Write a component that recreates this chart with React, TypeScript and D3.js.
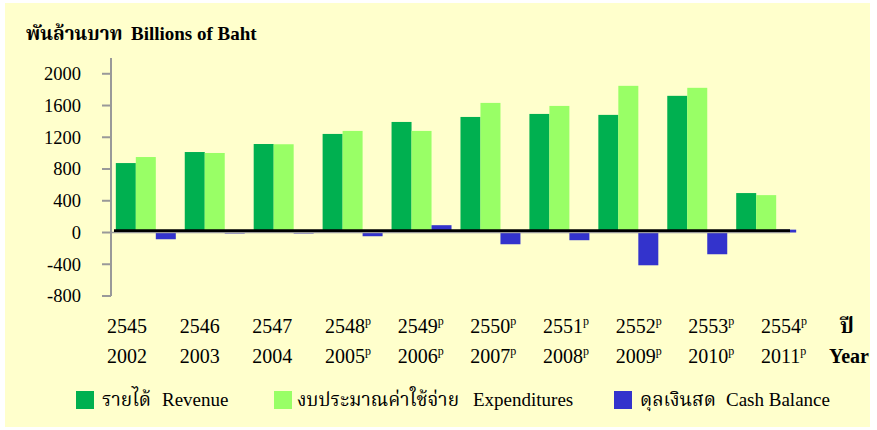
import React from 'react';
import * as d3 from 'd3';

const yearsBE = ['2545', '2546', '2547', '2548', '2549', '2550', '2551', '2552', '2553', '2554'];
const yearsCE = ['2002', '2003', '2004', '2005', '2006', '2007', '2008', '2009', '2010', '2011'];
const provisional = [false, false, false, true, true, true, true, true, true, true];
const revenue = [875, 1014, 1115, 1242, 1393, 1456, 1494, 1482, 1722, 497];
const expenditures = [951, 1002, 1112, 1280, 1280, 1633, 1595, 1848, 1823, 471];
const cashBalance = [-85, -12, -12, -47, 92, -148, -97, -413, -274, 36];
const yTicks = [-800, -400, 0, 400, 800, 1200, 1600, 2000];
const seriesKeys = ['revenue', 'expenditures', 'cash'];
const seriesThai = ['รายได้', 'งบประมาณค่าใช้จ่าย', 'ดุลเงินสด'];
const seriesEng = ['Revenue', 'Expenditures', 'Cash Balance'];
const seriesColors = ['#00B050', '#99FF66', '#3333CC'];
const titleThai = 'พันล้านบาท';
const titleEng = 'Billions of Baht';
const xTitleThai = 'ปี';
const xTitleEng = 'Year';

const W = 877;
const H = 430;
const SERIF = "'Liberation Serif', 'Times New Roman', 'Noto Serif Thai', 'Noto Sans Thai', serif";

export default function App() {
  const y = d3.scaleLinear().domain([-800, 2200]).range([296, 57.9]);
  const x = d3.scaleBand<string>().domain(yearsBE).range([111, 801]).paddingInner(0.13).paddingOuter(0.07);
  const xs = d3.scaleBand<string>().domain(seriesKeys).range([0, x.bandwidth()]);
  const xl = d3.scalePoint<string>().domain(yearsBE).range([127, 781]);
  const seriesData = [revenue, expenditures, cashBalance];
  const y0 = y(0);
  const axisX = 111;

  const legendSquares = [76, 274, 614];
  const legendThaiX = [102, 297, 640];
  const legendEngX = [162, 473, 726];

  return (
    <svg width={W} height={H} style={{ position: 'absolute', left: 0, top: 0 }} fontFamily={SERIF}>
      <rect x={0} y={0} width={W} height={H} fill="#ffffff" />
      <rect x={5} y={3} width={865} height={424} fill="#FFFFCC" />

      {/* title */}
      <text x={26} y={39.5} fontSize={19} fontWeight="bold" fill="#000">{titleThai}</text>
      <text x={131} y={39.5} fontSize={19} fontWeight="bold" fill="#000">{titleEng}</text>

      {/* bars */}
      {yearsBE.map((yr, i) => (
        <g key={yr} transform={`translate(${x(yr)},0)`}>
          {seriesKeys.map((k, s) => {
            const v = seriesData[s][i];
            const top = Math.min(y(v), y0);
            const h = Math.abs(y(v) - y0);
            return (
              <rect key={k} x={xs(k)} y={top} width={xs.bandwidth()} height={Math.max(h, 0.8)} fill={seriesColors[s]} />
            );
          })}
        </g>
      ))}

      {/* x axis (gray) and zero line (black) */}
      <line x1={axisX} x2={790} y1={y0} y2={y0} stroke="#999" strokeWidth={1.5} />
      <line x1={114} x2={790} y1={y0 - 1.8} y2={y0 - 1.8} stroke="#000" strokeWidth={2.7} />

      {/* y axis */}
      <line x1={axisX} x2={axisX} y1={y(2200)} y2={y(-800)} stroke="#999" strokeWidth={2} />
      {yTicks.map((t) => (
        <g key={t}>
          <line x1={102} x2={axisX} y1={y(t)} y2={y(t)} stroke="#999" strokeWidth={2} />
          <text x={81} y={y(t)} dy="0.35em" textAnchor="end" fontSize={18.5} fill="#000">{t}</text>
        </g>
      ))}

      {/* x labels */}
      {yearsBE.map((yr, i) => {
        const cx = xl(yr) as number;
        return (
          <g key={yr}>
            <text x={cx - 20} y={332.5} fontSize={20} fill="#000">
              {yr}
              {provisional[i] ? <tspan dy={-7.5} fontSize={12}>p</tspan> : null}
            </text>
            <text x={cx - 20} y={362.5} fontSize={20} fill="#000">
              {yearsCE[i]}
              {provisional[i] ? <tspan dy={-7.5} fontSize={12}>p</tspan> : null}
            </text>
          </g>
        );
      })}
      <text x={840} y={332.5} fontSize={21} fontWeight="bold" fill="#000">{xTitleThai}</text>
      <text x={829} y={362.5} fontSize={20} fontWeight="bold" fill="#000">{xTitleEng}</text>

      {/* legend */}
      {seriesKeys.map((k, s) => (
        <g key={k}>
          <rect x={legendSquares[s]} y={391} width={18} height={18} fill={seriesColors[s]} />
          <text x={legendThaiX[s]} y={405.5} fontSize={19} fill="#000">{seriesThai[s]}</text>
          <text x={legendEngX[s]} y={405.5} fontSize={19} fill="#000">{seriesEng[s]}</text>
        </g>
      ))}
    </svg>
  );
}
